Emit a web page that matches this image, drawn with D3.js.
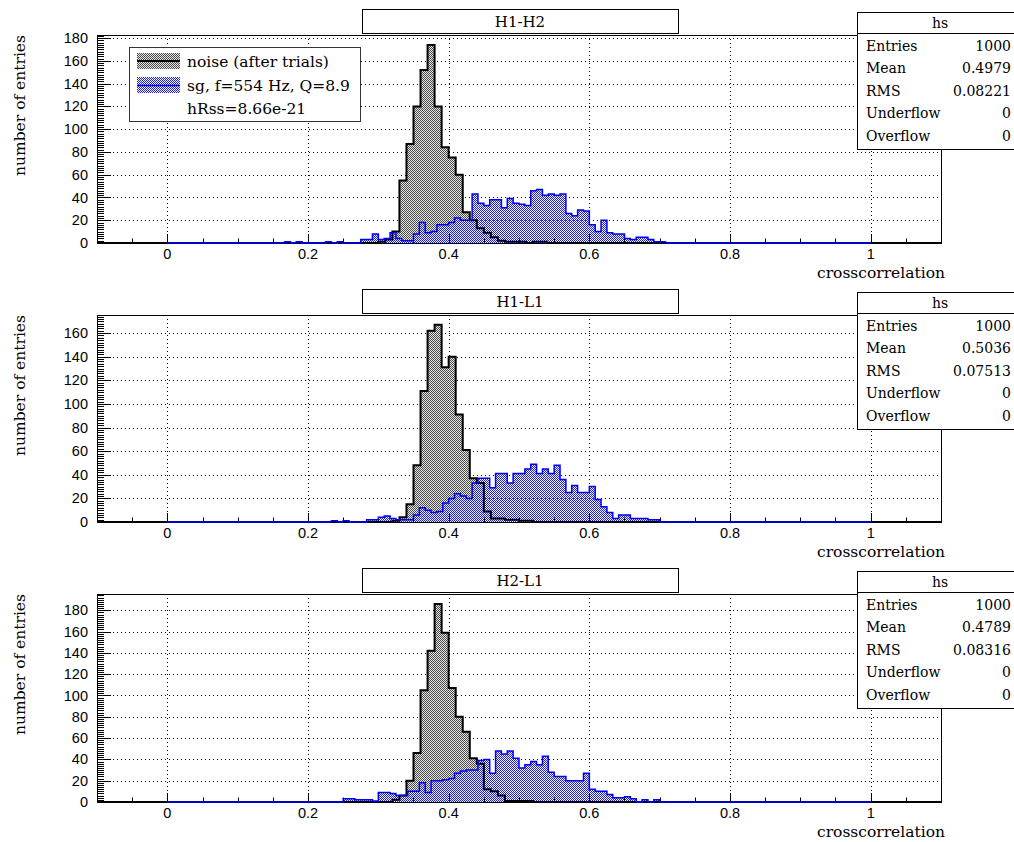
<!DOCTYPE html>
<html><head><meta charset="utf-8">
<script src="https://cdn.jsdelivr.net/npm/d3@7"></script>
<style>body{margin:0;background:#fff;} svg{display:block;}</style>
</head><body>
<svg id="c" width="1014" height="842"></svg>
<script>
// ---------------- data ----------------
const panelTitles = ["H1-H2", "H1-L1", "H2-L1"];
// noise histograms: 120 bins of 0.01 over [-0.1, 1.1]; arrays start at the given lower edge
const noiseStart = [0.30, 0.32, 0.32];
const noiseH1H2 = [1, 3, 10, 55, 87, 120, 152, 174, 120, 84, 75, 60, 27, 20, 13, 9, 5, 2, 1, 1, 1, 0, 1, 1];
const noiseH1L1 = [1, 4, 15, 48, 111, 162, 167, 131, 140, 91, 61, 37, 33, 9, 3, 3, 2, 2, 1, 1];
const noiseH2L1 = [2, 6, 20, 46, 105, 142, 186, 159, 107, 80, 66, 41, 36, 12, 10, 6, 1, 1, 1, 1];
// signal histograms: 120 bins of 1/120 over [0, 1]; arrays start at the given bin index
const signalStartBin = [20, 28, 30];
const signalH1H2 = [1, 0, 1, 0, 0, 0, 0, 1, 0, 1, 0, 0, 0, 3, 3, 8, 3, 4, 9, 4, 2, 2, 8, 18, 9, 10, 16, 16, 18, 22, 20, 20,
  43, 35, 33, 38, 38, 31, 39, 35, 34, 33, 46, 47, 42, 43, 42, 43, 26, 24, 29, 28, 16, 10, 20, 9, 8, 8, 4, 3, 5, 5, 3, 1, 1];
const signalH1L1 = [1, 0, 1, 0, 0, 0, 2, 2, 4, 5, 3, 2, 2, 2, 6, 12, 10, 8, 9, 16, 20, 24, 22, 20,
  33, 37, 37, 29, 41, 41, 33, 41, 41, 45, 49, 41, 45, 41, 48, 36, 25, 31, 25, 25, 30, 19, 13, 8, 3, 6, 6, 3, 3, 3, 2, 2];
const signalH2L1 = [3, 3, 2, 2, 2, 1, 9, 9, 8, 6, 6, 10, 10, 18, 9, 20, 20, 21, 22, 27, 29, 30, 30,
  39, 40, 27, 48, 45, 48, 41, 32, 35, 38, 35, 43, 28, 24, 24, 20, 20, 20, 27, 12, 10, 10, 7, 4, 4, 5, 3, 0, 2, 0, 2];
const statLabels = ["Entries", "Mean", "RMS", "Underflow", "Overflow"];
const statsH1H2 = ["1000", "0.4979", "0.08221", "0", "0"];
const statsH1L1 = ["1000", "0.5036", "0.07513", "0", "0"];
const statsH2L1 = ["1000", "0.4789", "0.08316", "0", "0"];
const legendLabels = ["noise (after trials)", "sg, f=554 Hz, Q=8.9", "hRss=8.66e-21"];
const xTickValues = [0, 0.2, 0.4, 0.6, 0.8, 1];
const xTickLabels = ["0", "0.2", "0.4", "0.6", "0.8", "1"];
const xTitle = "crosscorrelation";
const yTitle = "number of entries";
const statsTitle = "hs";

const noiseData = [noiseH1H2, noiseH1L1, noiseH2L1];
const signalData = [signalH1H2, signalH1L1, signalH2L1];
const statsData = [statsH1H2, statsH1L1, statsH2L1];

// ---------------- layout ----------------
const svg = d3.select("#c");
const serif = "'DejaVu Serif', serif";
const sans = "'Liberation Sans', Arial, sans-serif";
const frameL = 97, frameR = 941;
const frameTops = [35, 315, 594], frameBottoms = [243, 522, 802];

const defs = svg.append("defs");
const pn = defs.append("pattern").attr("id", "pNoise").attr("patternUnits", "userSpaceOnUse").attr("width", 2).attr("height", 2);
pn.append("rect").attr("width", 2).attr("height", 2).attr("fill", "#e6e6e6").attr("shape-rendering", "crispEdges");
pn.append("rect").attr("x", 0).attr("y", 0).attr("width", 1).attr("height", 1).attr("fill", "#4a4a4a").attr("shape-rendering", "crispEdges");
pn.append("rect").attr("x", 1).attr("y", 1).attr("width", 1).attr("height", 1).attr("fill", "#4a4a4a").attr("shape-rendering", "crispEdges");
const pb = defs.append("pattern").attr("id", "pSig").attr("patternUnits", "userSpaceOnUse").attr("width", 2).attr("height", 2);
pb.append("rect").attr("x", 0).attr("y", 0).attr("width", 1).attr("height", 1).attr("fill", "#1a1aff").attr("shape-rendering", "crispEdges");
pb.append("rect").attr("x", 1).attr("y", 1).attr("width", 1).attr("height", 1).attr("fill", "#1a1aff").attr("shape-rendering", "crispEdges");
pb.append("rect").attr("x", 1).attr("y", 0).attr("width", 1).attr("height", 1).attr("fill", "#ffffff").attr("opacity", 0.35).attr("shape-rendering", "crispEdges");
pb.append("rect").attr("x", 0).attr("y", 1).attr("width", 1).attr("height", 1).attr("fill", "#ffffff").attr("opacity", 0.35).attr("shape-rendering", "crispEdges");

const x = d3.scaleLinear().domain([-0.1, 1.1]).range([frameL, frameR]);

function fullBins(arr, startIdx, n) {
  const out = new Array(n).fill(0);
  arr.forEach((v, k) => { if (startIdx + k < n) out[startIdx + k] = v; });
  return out;
}
function stepPath(counts, lo, w, y) {
  let d = `M${x(lo)},${y(0)}`;
  counts.forEach((c, i) => {
    d += `L${x(lo + i * w)},${y(c)}L${x(lo + (i + 1) * w)},${y(c)}`;
  });
  d += `L${x(lo + counts.length * w)},${y(0)}`;
  return d;
}

for (let p = 0; p < 3; p++) {
  const top = frameTops[p], bot = frameBottoms[p];
  const noise = fullBins(noiseData[p], Math.round((noiseStart[p] + 0.1) * 100), 120);
  const sig = fullBins(signalData[p], signalStartBin[p], 120);
  const ymax = 1.05 * d3.max(noise);
  const y = d3.scaleLinear().domain([0, ymax]).range([bot, top]);
  const g = svg.append("g");

  g.append("rect").attr("x", frameL).attr("y", top).attr("width", frameR - frameL).attr("height", bot - top).attr("fill", "#fff");

  // grid
  const yMajor = d3.range(0, ymax + 0.001, 20);
  g.selectAll(".gx").data(xTickValues).enter().append("line")
    .attr("x1", d => Math.round(x(d)) + 0.5).attr("x2", d => Math.round(x(d)) + 0.5)
    .attr("y1", top).attr("y2", bot)
    .attr("stroke", "#000").attr("stroke-width", 1).attr("stroke-dasharray", "1,3");
  g.selectAll(".gy").data(yMajor.filter(v => v > 0)).enter().append("line")
    .attr("x1", frameL).attr("x2", frameR)
    .attr("y1", d => Math.round(y(d)) + 0.5).attr("y2", d => Math.round(y(d)) + 0.5)
    .attr("stroke", "#000").attr("stroke-width", 1).attr("stroke-dasharray", "1,3");

  // fills
  g.append("path").attr("d", stepPath(noise, -0.1, 0.01, y)).attr("fill", "url(#pNoise)").attr("stroke", "none");
  g.append("path").attr("d", stepPath(sig, 0, 1 / 120, y)).attr("fill", "url(#pSig)").attr("stroke", "none");

  // axis ticks
  const xMinor = d3.range(-0.1, 1.1001, 0.05);
  g.selectAll(".xt").data(xMinor).enter().append("line")
    .attr("x1", d => Math.round(x(d)) + 0.5).attr("x2", d => Math.round(x(d)) + 0.5)
    .attr("y1", bot).attr("y2", d => bot - (Math.abs(d / 0.2 - Math.round(d / 0.2)) < 1e-6 ? 9 : 4.5))
    .attr("stroke", "#000").attr("stroke-width", 1);
  const yMinor = d3.range(0, ymax, 2);
  g.selectAll(".yt").data(yMinor).enter().append("line")
    .attr("x1", frameL).attr("x2", d => frameL + (d % 20 === 0 ? 14 : 7))
    .attr("y1", d => Math.round(y(d)) + 0.5).attr("y2", d => Math.round(y(d)) + 0.5)
    .attr("stroke", "#000").attr("stroke-width", 1);

  // frame
  g.append("rect").attr("x", frameL + 0.5).attr("y", top + 0.5).attr("width", frameR - frameL).attr("height", bot - top)
    .attr("fill", "none").attr("stroke", "#000").attr("stroke-width", 1);

  // outlines
  g.append("path").attr("d", stepPath(noise, -0.1, 0.01, y)).attr("fill", "none").attr("stroke", "#000").attr("stroke-width", 2);
  g.append("path").attr("d", stepPath(sig, 0, 1 / 120, y)).attr("fill", "none").attr("stroke", "#0000ff").attr("stroke-width", 1.5);

  // tick labels
  g.selectAll(".xl").data(xTickValues).enter().append("text")
    .attr("x", d => x(d)).attr("y", bot + 11).attr("dy", "0.35em")
    .attr("text-anchor", "middle").attr("font-family", sans).attr("font-size", 14.5).attr("fill", "#000")
    .text((d, i) => xTickLabels[i]);
  g.selectAll(".yl").data(yMajor).enter().append("text")
    .attr("x", 88).attr("y", d => y(d)).attr("dy", "0.35em")
    .attr("text-anchor", "end").attr("font-family", sans).attr("font-size", 14.5).attr("fill", "#000")
    .text(d => d);

  // axis titles
  g.append("text").attr("x", 945).attr("y", bot + 30).attr("dy", "0.35em").attr("text-anchor", "end")
    .attr("font-family", serif).attr("font-size", 15.5).text(xTitle);
  g.append("text").attr("transform", `translate(20,${top}) rotate(-90)`).attr("dy", "0.35em")
    .attr("text-anchor", "end").attr("font-family", serif).attr("font-size", 15.5).text(yTitle);

  // title box
  const tTop = top - 26;
  g.append("rect").attr("x", 362.5).attr("y", tTop + 0.5).attr("width", 316).attr("height", 24)
    .attr("fill", "#fff").attr("stroke", "#000").attr("stroke-width", 1);
  g.append("text").attr("x", 520).attr("y", tTop + 12.5).attr("dy", "0.35em").attr("text-anchor", "middle")
    .attr("font-family", serif).attr("font-size", 15).text(panelTitles[p]);

  // stats box
  const sTop = top - 23;
  const sb = g.append("g");
  sb.append("rect").attr("x", 857.5).attr("y", sTop + 0.5).attr("width", 170).attr("height", 137)
    .attr("fill", "#fff").attr("stroke", "#000").attr("stroke-width", 1);
  sb.append("line").attr("x1", 857.5).attr("x2", 1030).attr("y1", sTop + 21.5).attr("y2", sTop + 21.5).attr("stroke", "#000");
  sb.append("text").attr("x", 940).attr("y", sTop + 11).attr("dy", "0.35em").attr("text-anchor", "middle")
    .attr("font-family", serif).attr("font-size", 14).text(statsTitle);
  statLabels.forEach((lab, i) => {
    const yy = sTop + 34 + i * 22.5;
    sb.append("text").attr("x", 866).attr("y", yy).attr("dy", "0.35em").attr("font-family", serif).attr("font-size", 14).text(lab);
    sb.append("text").attr("x", 1011).attr("y", yy).attr("dy", "0.35em").attr("text-anchor", "end")
      .attr("font-family", serif).attr("font-size", 14).text(statsData[p][i]);
  });
}

// legend (first panel only)
const lg = svg.append("g");
lg.append("rect").attr("x", 129.5).attr("y", 47.5).attr("width", 231).attr("height", 74)
  .attr("fill", "#fff").attr("stroke", "#333").attr("stroke-width", 1);
lg.append("rect").attr("x", 137).attr("y", 53).attr("width", 43).attr("height", 16).attr("fill", "url(#pNoise)");
lg.append("line").attr("x1", 137).attr("x2", 180).attr("y1", 61).attr("y2", 61).attr("stroke", "#000").attr("stroke-width", 2);
lg.append("rect").attr("x", 137).attr("y", 77).attr("width", 43).attr("height", 16).attr("fill", "url(#pSig)");
lg.append("line").attr("x1", 137).attr("x2", 180).attr("y1", 85.5).attr("y2", 85.5).attr("stroke", "#0000ff").attr("stroke-width", 1.5);
legendLabels.forEach((t, i) => {
  lg.append("text").attr("x", 187).attr("y", 62 + i * 23.5).attr("dy", "0.35em")
    .attr("font-family", serif).attr("font-size", 15.5).text(t);
});
</script>
</body></html>
